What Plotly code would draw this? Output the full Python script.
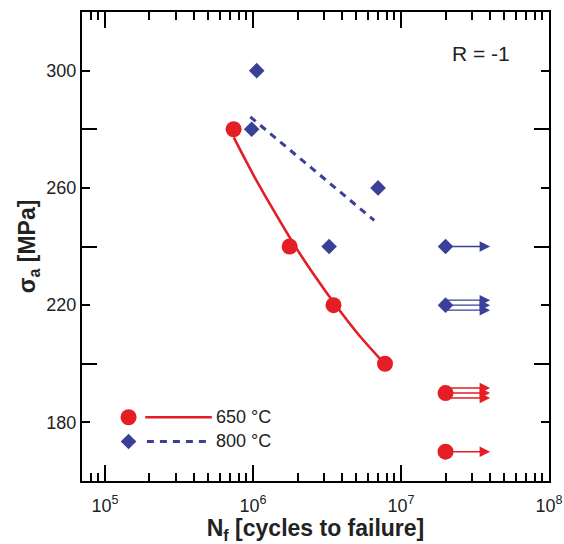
import plotly.graph_objects as go
import numpy as np

# ---------------- data ----------------
# 650 °C (failures)
n650 = [7.4e5, 1.77e6, 3.5e6, 7.8e6]
s650 = [280, 240, 220, 200]
# 650 °C run-outs and number of arrows drawn at each
n650_run = [2.0e7, 2.0e7]
s650_run = [190, 170]
arrows650 = [3, 1]

# 800 °C (failures)
n800 = [1.06e6, 9.8e5, 7.0e6, 3.27e6]
s800 = [300, 280, 260, 240]
# 800 °C run-outs
n800_run = [2.0e7, 2.0e7]
s800_run = [240, 220]
arrows800 = [1, 3]

# arrow tip (run-out direction)
runout_tip = 4.0e7

# fit curves
fit650_n = [7.42e5, 1.01e6, 1.38e6, 1.91e6, 2.57e6, 3.51e6, 5.18e6, 7.76e6]
fit650_s = [277.2, 264.3, 252.3, 240.4, 230.5, 220.9, 209.9, 200.0]
fit800_n = [9.6e5, 6.6e6]
fit800_s = [284.2, 248.9]

x_ticks = [1e5, 1e6, 1e7, 1e8]
x_ticktext = ["10<sup>5</sup>", "10<sup>6</sup>", "10<sup>7</sup>", "10<sup>8</sup>"]
y_major = [180, 220, 260, 300]
y_minor = [200, 240, 280]

labels = ["650 °C", "800 °C"]

RED = "#e31e24"
BLUE = "#3a3f97"
FONT = "Arial, Liberation Sans, Helvetica, sans-serif"

fig = go.Figure()

# fit lines
fig.add_trace(go.Scatter(x=fit650_n, y=fit650_s, mode="lines",
                         line=dict(color=RED, width=2.6, shape="spline"), showlegend=False))
fig.add_trace(go.Scatter(x=fit800_n, y=fit800_s, mode="lines",
                         line=dict(color=BLUE, width=3, dash="7px,6px"), showlegend=False))

# data points
fig.add_trace(go.Scatter(x=n650 + n650_run, y=s650 + s650_run, mode="markers",
                         marker=dict(symbol="circle", size=16, color=RED), showlegend=False))
fig.add_trace(go.Scatter(x=n800 + n800_run, y=s800 + s800_run, mode="markers",
                         marker=dict(symbol="diamond", size=12, color=BLUE), showlegend=False))

# run-out arrows
PX_PER_DECADE = 148
def add_arrows(ns, ss, counts, color):
    for n, s, c in zip(ns, ss, counts):
        shifts = [0] if c == 1 else [5, 0, -5]
        tail = -(np.log10(runout_tip) - np.log10(n)) * PX_PER_DECADE
        for sh in shifts:
            fig.add_annotation(x=np.log10(runout_tip), y=s, xref="x", yref="y",
                               ax=tail, ay=0, axref="pixel", ayref="pixel", yshift=sh,
                               text="", showarrow=True, arrowhead=2, arrowsize=1.5,
                               arrowwidth=1.4, arrowcolor=color, standoff=0)
add_arrows(n650_run, s650_run, arrows650, RED)
add_arrows(n800_run, s800_run, arrows800, BLUE)

# legend drawn on an overlay axis (0..1 in the plot area)
fig.add_trace(go.Scatter(x=[0.0997], y=[0.136], mode="markers", xaxis="x2", yaxis="y2",
                         marker=dict(symbol="circle", size=16, color=RED), showlegend=False))
fig.add_trace(go.Scatter(x=[0.1355, 0.278], y=[0.136, 0.136], mode="lines", xaxis="x2", yaxis="y2",
                         line=dict(color=RED, width=2.6), showlegend=False))
fig.add_trace(go.Scatter(x=[0.0997], y=[0.0843], mode="markers", xaxis="x2", yaxis="y2",
                         marker=dict(symbol="diamond", size=12, color=BLUE), showlegend=False))
fig.add_trace(go.Scatter(x=[0.139, 0.278], y=[0.0843, 0.0843], mode="lines", xaxis="x2", yaxis="y2",
                         line=dict(color=BLUE, width=3, dash="7px,6px"), showlegend=False))
for lab, yy in zip(labels, [0.136, 0.0843]):
    fig.add_annotation(x=0.283, y=yy, xref="paper", yref="paper", text=lab, showarrow=False,
                       xanchor="left", yanchor="middle", font=dict(size=18, color="#222"))

fig.add_annotation(x=0.921, y=0.912, xref="paper", yref="paper", text="R = -1",
                   showarrow=False, xanchor="right", yanchor="middle",
                   font=dict(size=21, color="#222"))

axis_common = dict(showline=True, linecolor="black", linewidth=2, mirror="ticks",
                   ticks="inside", tickcolor="black", tickwidth=1.6,
                   showgrid=False, zeroline=False, automargin=False,
                   tickfont=dict(size=18, color="#222", family=FONT))

minor_x = [k * 10.0 ** e for e in range(4, 8) for k in range(2, 10)]

fig.update_layout(
    width=564, height=544,
    margin=dict(l=82, r=15, t=12, b=63),
    paper_bgcolor="white", plot_bgcolor="white",
    font=dict(family=FONT, color="#222"),
    showlegend=False,
    xaxis=dict(type="log", range=[np.log10(7.0e4), 8],
               tickvals=x_ticks, ticktext=x_ticktext, ticklen=16,
               ticklabelstandoff=7,
               minor=dict(tickvals=minor_x, ticks="inside", ticklen=8,
                          tickwidth=1.6, tickcolor="black", showgrid=False),
               title=dict(text="<b>N<sub>f</sub> [cycles to failure]</b>",
                          font=dict(size=23, color="#222"), standoff=4),
               **axis_common),
    yaxis=dict(range=[160, 320], tickvals=y_major, ticklen=8,
               minor=dict(tickvals=y_minor, ticks="inside", ticklen=15,
                          tickwidth=1.6, tickcolor="black", showgrid=False),
               title=dict(text="<b>σ<sub>a</sub> [MPa]</b>",
                          font=dict(size=23, color="#222"), standoff=4),
               **axis_common),
    xaxis2=dict(overlaying="x", range=[0, 1], visible=False, fixedrange=True),
    yaxis2=dict(overlaying="y", range=[0, 1], visible=False, fixedrange=True),
)

# remove the page's default 8px body margin so the figure fills the window exactly
fig.write_html("out.html", config={"displayModeBar": False},
               post_script="document.body.style.margin='0';document.body.style.overflow='hidden';")
